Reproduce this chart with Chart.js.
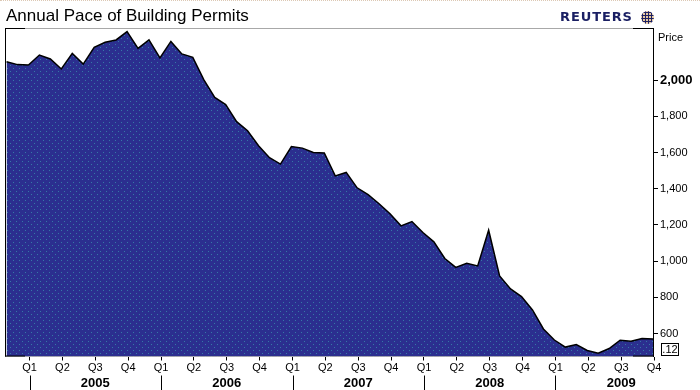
<!DOCTYPE html>
<html>
<head>
<meta charset="utf-8">
<title>Annual Pace of Building Permits</title>
<script src="https://cdn.jsdelivr.net/npm/chart.js@4.4.1/dist/chart.umd.min.js"></script>
<style>
  html, body { margin: 0; padding: 0; background: #fff; }
  #wrap { position: relative; width: 700px; height: 390px; overflow: hidden; border-top: 1px dotted #dcc8b4; box-sizing: border-box; }
  #chart { position: absolute; left: 0; top: 0; }
  .txt { position: absolute; font-family: 'Liberation Sans', Arial, sans-serif; color: #000; white-space: nowrap; }
  #title { left: 6px; top: 5px; font-size: 17px; line-height: 19px; }
  #logo { left: 560px; top: 8px; font-family: 'DejaVu Sans', sans-serif; font-weight: bold; font-size: 13px; line-height: 15px; letter-spacing: 0.9px; color: #1a1f63; }
  #globe { position: absolute; left: 641px; top: 10px; width: 13px; height: 13px; border-radius: 50%;
    background: radial-gradient(circle, #1c2062 1px, transparent 1.4px) 0 0 / 3px 3px, #e8c9a0; }
  #price { left: 658px; top: 30px; font-size: 11px; line-height: 13px; }
  #last { left: 661px; top: 342px; width: 18px; height: 13px; box-sizing: border-box; border: 1px solid #000;
    font-size: 11px; line-height: 11px; text-align: center; }
</style>
</head>
<body>
<div id="wrap">
  <canvas id="chart" width="700" height="390"></canvas>
  <div class="txt" id="title">Annual Pace of Building Permits</div>
  <div class="txt" id="logo">REUTERS</div>
  <div id="globe"></div>
  <div class="txt" id="price">Price</div>
  <div class="txt" id="last">.12</div>
</div>
<script>
(function() {
  'use strict';

  // monthly annual pace, thousands of units (Oct 2004 .. Sep 2009)
  var PERMITS = [
    2101, 2085, 2083, 2138, 2116, 2061, 2147, 2088, 2180, 2208, 2221, 2267,
    2175, 2221, 2122, 2213, 2144, 2125, 2002, 1904, 1864, 1770, 1720, 1637,
    1571, 1536, 1633, 1624, 1600, 1597, 1471, 1490, 1405, 1367, 1317, 1262,
    1195, 1219, 1158, 1107, 1015, 966, 988, 974, 1171, 919, 847, 805,
    731, 626, 565, 526, 540, 507, 492, 518, 564, 558, 573, 570
  ];
  var QUARTERS = ['Q1', 'Q2', 'Q3', 'Q4'];
  var YEARS = ['2005', '2006', '2007', '2008', '2009'];
  var Y_TICKS = [600, 800, 1000, 1200, 1400, 1600, 1800, 2000];

  var X_MIN = -0.14, X_MAX = 59;
  var Q1_2005 = 2.1;   // where 1 Jan 2005 falls on the month index axis
  var Y_MIN = 474, Y_MAX = 2287;

  var FONT = "'Liberation Sans', Arial, sans-serif";
  var NARROW = "'Liberation Sans Narrow', 'Arial Narrow', 'Liberation Sans', sans-serif";

  function makePattern() {
    var c = document.createElement('canvas');
    c.width = 6; c.height = 6;
    var g = c.getContext('2d');
    g.fillStyle = '#2b2f8f';
    g.fillRect(0, 0, 6, 6);
    g.fillStyle = '#3579a6';
    g.fillRect(1, 1, 1, 1);
    g.fillRect(4, 4, 1, 1);
    return g.createPattern(c, 'repeat');
  }

  var points = PERMITS.map(function(v, i) { return { x: i, y: v }; });

  var frame = {
    id: 'frame',
    afterDatasetsDraw: function(chart) {
      var a = chart.chartArea;
      var ctx = chart.ctx;
      ctx.save();
      ctx.lineWidth = 1;
      ctx.strokeStyle = '#a8a8a8';
      ctx.beginPath();
      ctx.moveTo(a.left, a.top + 0.5); ctx.lineTo(a.right, a.top + 0.5);
      ctx.stroke();
      ctx.strokeStyle = '#000';
      ctx.beginPath();
      ctx.moveTo(a.left + 0.5, a.top); ctx.lineTo(a.left + 0.5, a.bottom);
      ctx.moveTo(a.left, a.top + 0.5); ctx.lineTo(a.left + 20, a.top + 0.5);
      ctx.moveTo(a.left, a.bottom - 0.5); ctx.lineTo(a.left + 20, a.bottom - 0.5);
      ctx.moveTo(a.right - 20, a.top + 0.5); ctx.lineTo(a.right, a.top + 0.5);
      ctx.moveTo(a.right - 20, a.bottom - 0.5); ctx.lineTo(a.right, a.bottom - 0.5);
      ctx.stroke();

      // year separators under the quarter labels
      var xs = chart.scales.x, x2 = chart.scales.x2;
      ctx.beginPath();
      for (var k = 0; k < YEARS.length; k++) {
        var px = Math.round(xs.getPixelForValue(Q1_2005 + 12 * k)) + 0.5;
        ctx.moveTo(px, x2.top + 2); ctx.lineTo(px, x2.bottom - 1);
      }
      ctx.stroke();
      ctx.restore();
    }
  };

  new Chart(document.getElementById('chart'), {
    type: 'line',
    data: {
      datasets: [{
        data: points,
        borderColor: '#000',
        borderWidth: 1.5,
        backgroundColor: makePattern(),
        fill: 'start',
        pointRadius: 0,
        tension: 0
      }]
    },
    options: {
      responsive: false,
      animation: false,
      devicePixelRatio: 1,
      layout: { padding: { left: 5, top: 27, right: 0, bottom: 0 } },
      plugins: { legend: { display: false }, tooltip: { enabled: false } },
      scales: {
        x: {
          type: 'linear',
          min: X_MIN, max: X_MAX,
          weight: 0,
          afterBuildTicks: function(scale) {
            var t = [];
            for (var k = 0; k < YEARS.length * 4; k++) t.push({ value: Q1_2005 + 3 * k });
            scale.ticks = t;
          },
          afterFit: function(scale) { scale.height = 17; },
          grid: { drawOnChartArea: false, drawTicks: true, tickLength: 4, color: '#000' },
          border: { color: '#b4b4b4', width: 1 },
          ticks: {
            autoSkip: false, maxRotation: 0, padding: 1, color: '#000',
            font: { family: FONT, size: 11 },
            callback: function(v, i) { return QUARTERS[i % 4]; }
          }
        },
        x2: {
          type: 'linear',
          position: 'bottom',
          min: X_MIN, max: X_MAX,
          weight: 1,
          afterBuildTicks: function(scale) {
            scale.ticks = YEARS.map(function(y, k) { return { value: Q1_2005 + 6 + 12 * k }; });
          },
          afterFit: function(scale) { scale.height = 17.5; },
          grid: { display: false, drawTicks: false },
          border: { display: false },
          ticks: {
            autoSkip: false, maxRotation: 0, padding: 2, color: '#000',
            font: { family: NARROW, size: 13, weight: 'bold' },
            callback: function(v, i) { return YEARS[i]; }
          }
        },
        y: {
          position: 'right',
          min: Y_MIN, max: Y_MAX,
          afterBuildTicks: function(scale) {
            scale.ticks = Y_TICKS.map(function(v) { return { value: v }; });
          },
          afterFit: function(scale) { scale.width = 47; },
          grid: { drawOnChartArea: false, drawTicks: true, tickLength: 5, color: '#000' },
          border: { color: '#000', width: 1 },
          ticks: {
            padding: 2, color: '#000',
            font: function(c) {
              return c.tick && c.tick.value === 2000
                ? { family: FONT, size: 13, weight: 'bold' }
                : { family: FONT, size: 11 };
            },
            callback: function(v) { return v.toLocaleString('en-US'); }
          }
        }
      }
    },
    plugins: [frame]
  });
})();
</script>
</body>
</html>
